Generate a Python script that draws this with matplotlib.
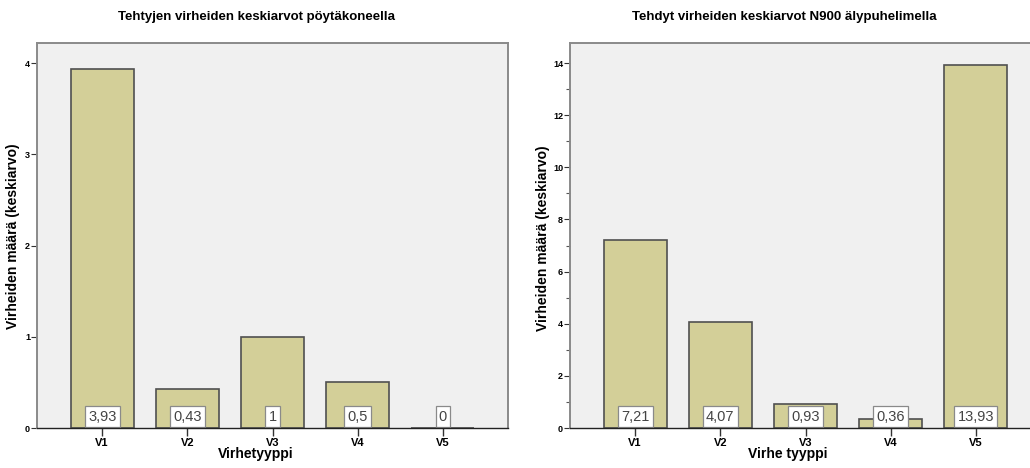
import numpy as np
import matplotlib.pyplot as plt
from matplotlib.ticker import MultipleLocator

plt.rcParams['font.family'] = ['Liberation Sans', 'DejaVu Sans']

categories = ["V1", "V2", "V3", "V4", "V5"]
desktop_means = [3.93, 0.43, 1.0, 0.5, 0.0]
desktop_labels = ["3,93", "0,43", "1", "0,5", "0"]
n900_means = [7.21, 4.07, 0.93, 0.36, 13.93]
n900_labels = ["7,21", "4,07", "0,93", "0,36", "13,93"]

BAR_COLOR = "#d3cf98"
BAR_EDGE = "#505050"
PANEL_BG = "#f0f0f0"


def draw_panel(ax, values, labels, ymax, major, minor=None):
    x = np.arange(len(categories))
    ax.set_facecolor(PANEL_BG)
    ax.bar(x, values, width=0.74, color=BAR_COLOR, edgecolor=BAR_EDGE,
           linewidth=1.2, zorder=2)
    for xi, lab in zip(x, labels):
        ax.annotate(lab, xy=(xi, 0), xytext=(0, 3.2), textcoords='offset points',
                    ha='center', va='bottom', fontsize=10.5, color='#444444',
                    zorder=4,
                    bbox=dict(boxstyle='square,pad=0.22', fc='white',
                              ec='#8a8a8a', lw=0.9))
    ax.set_xlim(-0.765, len(categories) - 0.235)
    ax.set_ylim(0, ymax)
    ax.set_xticks(x)
    ax.set_xticklabels(categories, fontsize=8, fontweight='bold')
    ax.yaxis.set_major_locator(MultipleLocator(major))
    if minor:
        ax.yaxis.set_minor_locator(MultipleLocator(minor))
        ax.tick_params(axis='y', which='minor', length=3, width=0.8,
                       color='#555555')
    ax.yaxis.set_major_formatter(plt.FuncFormatter(lambda v, p: f"{v:g}"))
    for t in ax.get_yticklabels():
        t.set_fontweight('bold')
    ax.tick_params(axis='y', which='major', labelsize=6.5, length=4, width=0.8,
                   pad=1, color='#333333')
    ax.tick_params(axis='x', length=6, width=1, pad=1, color='#333333')
    for side in ['left', 'top', 'right']:
        ax.spines[side].set_color('#8a8a8a')
        ax.spines[side].set_linewidth(1.4)
    ax.spines['bottom'].set_color('#222222')
    ax.spines['bottom'].set_linewidth(1.0)
    ax.spines['bottom'].set_zorder(5)


fig = plt.figure(figsize=(10.3, 4.68), dpi=100)
fig.patch.set_facecolor('white')

W, H = 1030.0, 468.0
ax1 = fig.add_axes([37 / W, 40 / H, 471 / W, 385 / H])
ax2 = fig.add_axes([570 / W, 40 / H, 471 / W, 385 / H])

draw_panel(ax1, desktop_means, desktop_labels, 4.22, 1)
draw_panel(ax2, n900_means, n900_labels, 14.77, 2, 1)

fig.text(256 / W, 1 - 17 / H, "Tehtyjen virheiden keskiarvot pöytäkoneella",
         ha='center', va='center', fontsize=9.5, fontweight='bold')
fig.text(784 / W, 1 - 17 / H, "Tehdyt virheiden keskiarvot N900 älypuhelimella",
         ha='center', va='center', fontsize=9.5, fontweight='bold')

fig.text(256 / W, 1 - 454 / H, "Virhetyyppi", ha='center', va='center',
         fontsize=10, fontweight='bold')
fig.text(788 / W, 1 - 454 / H, "Virhe tyyppi", ha='center', va='center',
         fontsize=10, fontweight='bold')

fig.text(13 / W, 1 - 236 / H, "Virheiden määrä (keskiarvo)", rotation=90,
         ha='center', va='center', fontsize=10, fontweight='bold')
fig.text(543 / W, 1 - 238 / H, "Virheiden määrä (keskiarvo)", rotation=90,
         ha='center', va='center', fontsize=10, fontweight='bold')

fig.savefig("out.png", dpi=100)
